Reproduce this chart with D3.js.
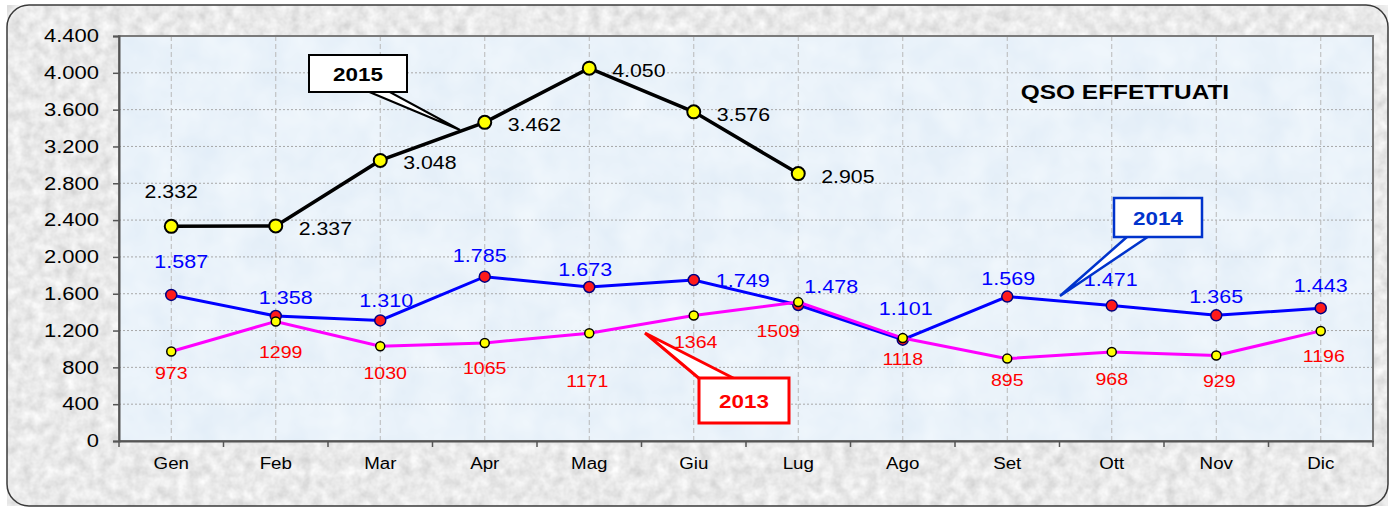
<!DOCTYPE html>
<html>
<head>
<meta charset="utf-8">
<script src="https://cdn.jsdelivr.net/npm/d3@7"></script>
<style>
  body { margin: 0; background: #fff; }
  svg { display: block; font-family: "Liberation Sans", Arial, sans-serif; }
</style>
</head>
<body>
<div id="chart"></div>
<script>
const months = ["Gen", "Feb", "Mar", "Apr", "Mag", "Giu", "Lug", "Ago", "Set", "Ott", "Nov", "Dic"];
const yTicks = [0, 400, 800, 1200, 1600, 2000, 2400, 2800, 3200, 3600, 4000, 4400];
const qso2015 = [2332, 2337, 3048, 3462, 4050, 3576, 2905];
const qso2014 = [1587, 1358, 1310, 1785, 1673, 1749, 1478, 1101, 1569, 1471, 1365, 1443];
const qso2013 = [973, 1299, 1030, 1065, 1171, 1364, 1509, 1118, 895, 968, 929, 1196];

// label nudges [dx, dy] (layout only)
const off2014 = [[10,-34],[10,-19],[6,-20],[-5,-22],[-4,-18],[49,0],[33,-19],[3,-32],[1,-19],[-1,-27],[0,-19],[0,-23]];
const off2013 = [[0,22],[5,31],[5,27],[0,25],[-2,48],[2,27],[-20,29],[0,21],[0,21],[0,27],[3,26],[3,25]];

const W = 1395, H = 511;
const margin = {top: 36, right: 22, bottom: 70, left: 119};
const plotW = W - margin.left - margin.right,
      plotH = H - margin.top - margin.bottom;

const it = d3.formatLocale({decimal: ",", thousands: ".", grouping: [3], currency: ["", "€"]});
const fmt = it.format(",d");

// the original picture is a bit wider than tall, so the text is stretched
function stretch(sel, k) {
  sel.each(function() {
    const l = this.getComputedTextLength();
    d3.select(this).attr("textLength", l * k).attr("lengthAdjust", "spacingAndGlyphs");
  });
}

const svg = d3.select("#chart").append("svg")
  .attr("width", W).attr("height", H);

const defs = svg.append("defs");
const stone = defs.append("filter").attr("id", "stone").attr("x", 0).attr("y", 0).attr("width", 1).attr("height", 1);
stone.append("feTurbulence").attr("type", "fractalNoise").attr("baseFrequency", 0.09).attr("numOctaves", 3).attr("seed", 4).attr("result", "n");
stone.append("feColorMatrix").attr("in", "n").attr("type", "matrix")
  .attr("values", "0 0 0 0.4 0.62  0 0 0 0.4 0.62  0 0 0 0.4 0.62  0 0 0 0 1");
const water = defs.append("filter").attr("id", "water").attr("x", 0).attr("y", 0).attr("width", 1).attr("height", 1);
water.append("feTurbulence").attr("type", "fractalNoise").attr("baseFrequency", 0.03).attr("numOctaves", 3).attr("seed", 9).attr("result", "n");
water.append("feColorMatrix").attr("in", "n").attr("type", "matrix")
  .attr("values", "0 0 0 0.14 0.75  0 0 0 0.1 0.84  0 0 0 0.05 0.93  0 0 0 0 1");

// outer frame
svg.append("rect")
  .attr("x", 7).attr("y", 5).attr("width", W - 14).attr("height", H - 10).attr("rx", 22)
  .attr("fill", "#e4e4e4").attr("filter", "url(#stone)");
svg.append("rect")
  .attr("x", 7).attr("y", 5).attr("width", W - 14).attr("height", H - 10).attr("rx", 22)
  .attr("fill", "none").attr("stroke", "#3a3a3a").attr("stroke-width", 1.5);

const g = svg.append("g").attr("transform", "translate(" + margin.left + "," + margin.top + ")");

g.append("rect").attr("width", plotW).attr("height", plotH)
  .attr("fill", "#d8e8f8").attr("filter", "url(#water)");

const x = d3.scaleBand().domain(months).range([0, plotW]);
const y = d3.scaleLinear().domain([0, 4400]).range([plotH, 0]);
const cx = (i) => x(months[i]) + x.bandwidth() / 2;

// grid
g.append("g").selectAll("line").data(yTicks.slice(1, -1)).join("line")
  .attr("x1", 0).attr("x2", plotW).attr("y1", d => y(d)).attr("y2", d => y(d))
  .attr("stroke", "#a8a8a8").attr("stroke-width", 1).attr("stroke-dasharray", "2,2");
g.append("g").selectAll("line").data(months).join("line")
  .attr("x1", d => x(d) + x.bandwidth() / 2).attr("x2", d => x(d) + x.bandwidth() / 2)
  .attr("y1", 0).attr("y2", plotH)
  .attr("stroke", "#b8b8b8").attr("stroke-width", 1).attr("stroke-dasharray", "5,3");

g.append("rect").attr("width", plotW).attr("height", plotH)
  .attr("fill", "none").attr("stroke", "#7a7a7a").attr("stroke-width", 2);

// axes
const yAxis = g.append("g").call(d3.axisLeft(y).tickValues(yTicks).tickFormat(fmt).tickSize(6).tickPadding(14));
yAxis.select(".domain").attr("stroke", "#555").attr("stroke-width", 2);
yAxis.selectAll(".tick line").attr("stroke", "#555").attr("stroke-width", 1.5);
yAxis.selectAll("text").attr("font-size", 18).attr("fill", "#000").attr("font-family", "Liberation Sans, Arial")
  .call(stretch, 1.22);

const xAxis = g.append("g").attr("transform", "translate(0," + plotH + ")")
  .call(d3.axisBottom(x).tickSize(0).tickPadding(17));
xAxis.select(".domain").attr("stroke", "#555").attr("stroke-width", 2);
xAxis.selectAll("text").attr("font-size", 16).attr("fill", "#000").attr("font-family", "Liberation Sans, Arial")
  .call(stretch, 1.17);
g.append("g").selectAll("line").data(d3.range(months.length + 1)).join("line")
  .attr("x1", i => i * x.bandwidth()).attr("x2", i => i * x.bandwidth())
  .attr("y1", plotH).attr("y2", plotH + 6)
  .attr("stroke", "#555").attr("stroke-width", 1.5);

const line = d3.line().x((d, i) => cx(i)).y(d => y(d));

// 2014
g.append("path").datum(qso2014).attr("d", line)
  .attr("fill", "none").attr("stroke", "#0000ff").attr("stroke-width", 3);
g.append("g").selectAll("circle").data(qso2014).join("circle")
  .attr("cx", (d, i) => cx(i)).attr("cy", d => y(d)).attr("r", 5.5)
  .attr("fill", "#ff1a1a").attr("stroke", "#000080").attr("stroke-width", 1.5);

// 2013
g.append("path").datum(qso2013).attr("d", line)
  .attr("fill", "none").attr("stroke", "#ff00ff").attr("stroke-width", 3);
g.append("g").selectAll("circle").data(qso2013).join("circle")
  .attr("cx", (d, i) => cx(i)).attr("cy", d => y(d)).attr("r", 4.5)
  .attr("fill", "#ffff00").attr("stroke", "#000").attr("stroke-width", 1.5);

// 2015
g.append("path").datum(qso2015).attr("d", line)
  .attr("fill", "none").attr("stroke", "#000").attr("stroke-width", 3.5);
g.append("g").selectAll("circle").data(qso2015).join("circle")
  .attr("cx", (d, i) => cx(i)).attr("cy", d => y(d)).attr("r", 6.5)
  .attr("fill", "#ffff00").attr("stroke", "#000").attr("stroke-width", 2);

// labels
g.append("g").selectAll("text").data(qso2015).join("text")
  .attr("x", (d, i) => i === 0 ? cx(i) : cx(i) + 23)
  .attr("y", (d, i) => i === 0 ? y(d) - 35 + 7 : y(d) + 2 + 7)
  .attr("text-anchor", (d, i) => i === 0 ? "middle" : "start")
  .attr("font-size", 19).attr("fill", "#000")
  .text(d => fmt(d))
  .call(stretch, 1.12);

g.append("g").selectAll("text").data(qso2014).join("text")
  .attr("x", (d, i) => cx(i) + off2014[i][0])
  .attr("y", (d, i) => y(d) + off2014[i][1] + 7)
  .attr("text-anchor", "middle")
  .attr("font-size", 19).attr("fill", "#0000ff")
  .text(d => fmt(d))
  .call(stretch, 1.13);

g.append("g").selectAll("text").data(qso2013).join("text")
  .attr("x", (d, i) => cx(i) + off2013[i][0])
  .attr("y", (d, i) => y(d) + off2013[i][1] + 6)
  .attr("text-anchor", "middle")
  .attr("font-size", 17).attr("fill", "#ff0000")
  .text(d => d)
  .call(stretch, 1.15);

// title
svg.append("text")
  .attr("x", 1125).attr("y", 99)
  .attr("text-anchor", "middle")
  .attr("font-size", 20).attr("font-weight", "bold").attr("fill", "#000")
  .text("QSO EFFETTUATI")
  .call(stretch, 1.22);

// callouts
function callout(box, tail, tip, color, label, sw) {
  svg.append("path")
    .attr("d", "M" + tail[0] + "L" + tip + "L" + tail[1] + "Z")
    .attr("fill", "#fff").attr("stroke", color).attr("stroke-width", sw).attr("stroke-linejoin", "miter");
  svg.append("rect")
    .attr("x", box[0]).attr("y", box[1]).attr("width", box[2]).attr("height", box[3])
    .attr("fill", "#fff").attr("stroke", color).attr("stroke-width", sw);
  svg.append("text")
    .attr("x", box[0] + box[2] / 2).attr("y", box[1] + box[3] / 2 + 7)
    .attr("text-anchor", "middle")
    .attr("font-size", 19).attr("font-weight", "bold").attr("fill", color)
    .text(label)
    .call(stretch, 1.18);
}
callout([309, 55, 98, 37], [[367, 91], [388, 91]], [460, 130], "#000", "2015", 2);
callout([699, 378, 90, 45], [[701, 380], [737, 380]], [645, 333], "#ff0000", "2013", 3);
callout([1114, 198, 88, 39], [[1128, 236], [1149, 236]], [1060, 296], "#0033cc", "2014", 2.5);
</script>
</body>
</html>
